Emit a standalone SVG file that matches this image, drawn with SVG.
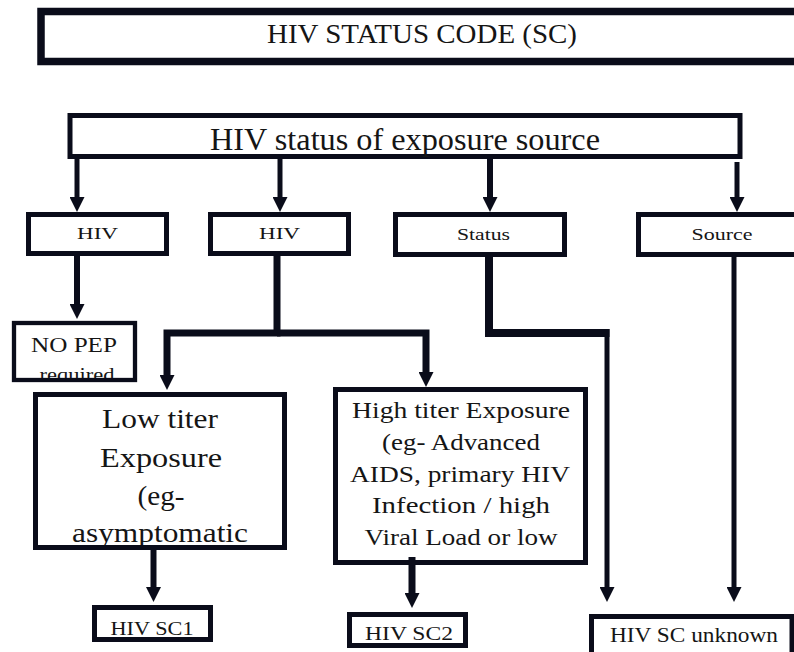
<svg xmlns="http://www.w3.org/2000/svg" width="794" height="652" viewBox="0 0 794 652">
<style>
  .box { fill: #ffffff; stroke: #0a0c1a; stroke-width: 5; }
  .t { font-family: "Liberation Serif", "DejaVu Serif", serif; fill: #151515; text-anchor: middle; }
  .c { fill: none; stroke: #0a0c1a; stroke-linejoin: miter; stroke-linecap: butt; }
</style>
<defs>
  <marker id="ah" viewBox="0 0 15 15" markerWidth="15" markerHeight="15" markerUnits="userSpaceOnUse" refX="1" refY="7.5" orient="auto">
    <path d="M0,0 L15,7.5 L0,15 z" fill="#0a0c1a"/>
  </marker>
  <clipPath id="clipNoPep"><rect x="16" y="325" width="117" height="53"/></clipPath>
  <clipPath id="clipLow"><rect x="38" y="397" width="244" height="148"/></clipPath>
</defs>

<g id="title">
  <rect class="box" x="41" y="11.5" width="770" height="50" style="stroke-width:7.5"/>
  <text class="t" x="422" y="43" font-size="27" textLength="310" lengthAdjust="spacingAndGlyphs">HIV STATUS CODE (SC)</text>
</g>

<g id="exposure-source">
  <rect class="box" x="70" y="115.5" width="670" height="41"/>
  <text class="t" x="405" y="150" font-size="31" textLength="390" lengthAdjust="spacingAndGlyphs">HIV status of exposure source</text>
</g>

<g id="hiv1">
  <rect class="box" x="28.5" y="214.5" width="138" height="39"/>
  <text class="t" x="97.5" y="239" font-size="17" textLength="41" lengthAdjust="spacingAndGlyphs">HIV</text>
</g>

<g id="hiv2">
  <rect class="box" x="210.5" y="214.5" width="138" height="39"/>
  <text class="t" x="279.5" y="239" font-size="17" textLength="41" lengthAdjust="spacingAndGlyphs">HIV</text>
</g>

<g id="status">
  <rect class="box" x="395.5" y="214.5" width="169" height="40"/>
  <text class="t" x="483.5" y="240" font-size="17" textLength="53" lengthAdjust="spacingAndGlyphs">Status</text>
</g>

<g id="source">
  <rect class="box" x="638.5" y="214.5" width="170" height="40"/>
  <text class="t" x="722" y="240" font-size="17" textLength="61" lengthAdjust="spacingAndGlyphs">Source</text>
</g>

<g id="no-pep">
  <rect class="box" x="14" y="323" width="121" height="57" style="stroke-width:4.3"/>
  <text class="t" x="74" y="352" font-size="20" textLength="86" lengthAdjust="spacingAndGlyphs">NO PEP</text>
  <text class="t" x="77" y="381" font-size="19" textLength="75" lengthAdjust="spacingAndGlyphs" clip-path="url(#clipNoPep)">required</text>
</g>

<g id="low-titer">
  <rect class="box" x="35.5" y="394.5" width="249" height="153"/>
  <g clip-path="url(#clipLow)">
    <text class="t" x="160" y="428" font-size="28" textLength="116" lengthAdjust="spacingAndGlyphs">Low titer</text>
    <text class="t" x="161" y="467" font-size="28" textLength="122" lengthAdjust="spacingAndGlyphs">Exposure</text>
    <text class="t" x="161" y="505" font-size="28" textLength="47" lengthAdjust="spacingAndGlyphs">(eg-</text>
    <text class="t" x="160" y="542" font-size="28" textLength="176" lengthAdjust="spacingAndGlyphs">asymptomatic</text>
  </g>
</g>

<g id="high-titer">
  <rect class="box" x="335.5" y="389.5" width="250" height="173"/>
  <text class="t" x="461" y="418" font-size="23" textLength="218" lengthAdjust="spacingAndGlyphs">High titer Exposure</text>
  <text class="t" x="461" y="450" font-size="23" textLength="158" lengthAdjust="spacingAndGlyphs">(eg- Advanced</text>
  <text class="t" x="460" y="482" font-size="23" textLength="220" lengthAdjust="spacingAndGlyphs">AIDS, primary HIV</text>
  <text class="t" x="461" y="513" font-size="23" textLength="178" lengthAdjust="spacingAndGlyphs">Infection / high</text>
  <text class="t" x="461" y="545" font-size="23" textLength="193" lengthAdjust="spacingAndGlyphs">Viral Load or low</text>
</g>

<g id="sc1">
  <rect class="box" x="94.5" y="607.5" width="116" height="32"/>
  <text class="t" x="152" y="635" font-size="19" textLength="83" lengthAdjust="spacingAndGlyphs">HIV SC1</text>
</g>

<g id="sc2">
  <rect class="box" x="349.5" y="614.5" width="116" height="31"/>
  <text class="t" x="409" y="640" font-size="19" textLength="88" lengthAdjust="spacingAndGlyphs">HIV SC2</text>
</g>

<g id="sc-unknown">
  <rect class="box" x="591.5" y="616.5" width="200.5" height="50"/>
  <text class="t" x="694" y="642" font-size="20" textLength="168" lengthAdjust="spacingAndGlyphs">HIV SC unknown</text>
</g>

<g id="connectors">
  <path class="c" d="M77,159 V198" stroke-width="5" marker-end="url(#ah)"/>
  <path class="c" d="M280,159 V198" stroke-width="5" marker-end="url(#ah)"/>
  <path class="c" d="M490,159 V198" stroke-width="6" marker-end="url(#ah)"/>
  <path class="c" d="M737,162 V198" stroke-width="5" marker-end="url(#ah)"/>
  <path class="c" d="M77,256 V305" stroke-width="6" marker-end="url(#ah)"/>
  <path class="c" d="M277,256 V333 H167 V376" stroke-width="7" marker-end="url(#ah)"/>
  <path class="c" d="M277,333 H426 V373" stroke-width="7" marker-end="url(#ah)"/>
  <path class="c" d="M489,257 V333 H609.5" stroke-width="8"/>
  <path class="c" d="M607,329 V588" stroke-width="5" marker-end="url(#ah)"/>
  <path class="c" d="M734,257 V588" stroke-width="5" marker-end="url(#ah)"/>
  <path class="c" d="M153.5,550 V588" stroke-width="6" marker-end="url(#ah)"/>
  <path class="c" d="M412,557 V594" stroke-width="7" marker-end="url(#ah)"/>
</g>
</svg>
